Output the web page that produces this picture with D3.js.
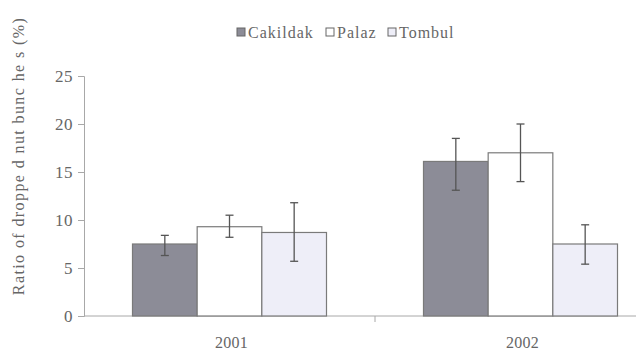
<!DOCTYPE html>
<html>
<head>
<meta charset="utf-8">
<script src="https://cdn.jsdelivr.net/npm/d3@7"></script>
<style>
  html, body { margin: 0; padding: 0; background: #fff; }
  svg text { font-family: "Liberation Serif", "Times New Roman", serif; }
</style>
</head>
<body>
<svg id="chart" width="636" height="351"></svg>
<script>
// Dropped nut bunches by cultivar and year
const years = ["2001", "2002"];
const cultivars = ["Cakildak", "Palaz", "Tombul"];
const means = {
  Cakildak: [7.5, 16.1],
  Palaz: [9.3, 17.0],
  Tombul: [8.7, 7.5]
};
const errLow = {
  Cakildak: [6.3, 13.1],
  Palaz: [8.2, 14.0],
  Tombul: [5.7, 5.4]
};
const errHigh = {
  Cakildak: [8.4, 18.5],
  Palaz: [10.5, 20.0],
  Tombul: [11.8, 9.5]
};
const yTicks = [0, 5, 10, 15, 20, 25];
const fills = { Cakildak: "#8c8c97", Palaz: "#ffffff", Tombul: "#eeeef8" };

const serif = "'Liberation Serif', 'Times New Roman', serif";
const svg = d3.select("#chart");
const plotLeft = 84, plotRight = 666, plotTop = 76, plotBottom = 316;
const textColor = "#666", axisColor = "#a8a8a8";

const x0 = d3.scaleBand().domain(years).range([plotLeft, plotRight]);
const x1 = d3.scaleBand().domain(cultivars)
  .range([0, x0.bandwidth()]).paddingOuter(0.75).paddingInner(0);
const y = d3.scaleLinear().domain([0, 25]).range([plotBottom, plotTop]);

// y axis
const yAxis = svg.append("g").attr("transform", `translate(${plotLeft},0)`)
  .call(d3.axisLeft(y).tickValues(yTicks).tickSize(6).tickPadding(5))
  .attr("font-family", serif);
yAxis.select(".domain").attr("stroke", axisColor);
yAxis.selectAll(".tick line").attr("stroke", axisColor);
yAxis.selectAll(".tick text").attr("fill", textColor)
  .style("font-family", serif)
  .style("font-size", "17px").style("letter-spacing", "0.5px");

// x axis: ticks on category boundaries
const xAxis = svg.append("g").attr("transform", `translate(0,${plotBottom})`);
xAxis.append("line").attr("x1", plotLeft).attr("x2", plotRight)
  .attr("stroke", axisColor);
xAxis.selectAll("line.sep").data(years.slice(1)).join("line")
  .attr("class", "sep")
  .attr("x1", d => x0(d)).attr("x2", d => x0(d))
  .attr("y1", 0).attr("y2", 6).attr("stroke", axisColor);
xAxis.selectAll("text").data(years).join("text")
  .attr("x", d => x0(d) + x0.bandwidth() / 2 + 2)
  .attr("y", 32)
  .attr("text-anchor", "middle")
  .attr("fill", textColor)
  .style("font-family", serif)
  .style("font-size", "16px").style("letter-spacing", "0.3px")
  .text(d => d);

// bars
const groups = svg.append("g").selectAll("g").data(years).join("g")
  .attr("transform", d => `translate(${x0(d)},0)`);

cultivars.forEach(c => {
  groups.append("rect")
    .attr("x", x1(c))
    .attr("width", x1.bandwidth())
    .attr("y", (d, i) => y(means[c][i]))
    .attr("height", (d, i) => y(0) - y(means[c][i]))
    .attr("fill", fills[c])
    .attr("stroke", "#7a7a7a")
    .attr("stroke-width", 1.2);
});

// error bars
cultivars.forEach(c => {
  const cx = x1(c) + x1.bandwidth() / 2;
  const g = groups.append("g").attr("stroke", "#555").attr("stroke-width", 1.3);
  g.append("line").attr("x1", cx).attr("x2", cx)
    .attr("y1", (d, i) => y(errHigh[c][i])).attr("y2", (d, i) => y(errLow[c][i]));
  g.append("line").attr("x1", cx - 4).attr("x2", cx + 4)
    .attr("y1", (d, i) => y(errHigh[c][i])).attr("y2", (d, i) => y(errHigh[c][i]));
  g.append("line").attr("x1", cx - 4).attr("x2", cx + 4)
    .attr("y1", (d, i) => y(errLow[c][i])).attr("y2", (d, i) => y(errLow[c][i]));
});

// legend
const legendItems = [
  { name: "Cakildak", x: 237 },
  { name: "Palaz", x: 326 },
  { name: "Tombul", x: 388 }
];
const legend = svg.append("g");
legendItems.forEach(it => {
  legend.append("rect").attr("x", it.x).attr("y", 28).attr("width", 8).attr("height", 8)
    .attr("fill", fills[it.name]).attr("stroke", "#666").attr("stroke-width", 1);
  legend.append("text").attr("x", it.x + 11).attr("y", 38)
    .attr("fill", textColor)
    .style("font-family", serif)
    .style("font-size", "16px").style("letter-spacing", "1px")
    .text(it.name);
});

// y axis title
svg.append("text")
  .attr("transform", "translate(24,156) rotate(-90)")
  .attr("text-anchor", "middle")
  .attr("fill", textColor)
  .style("font-family", serif)
  .style("font-size", "16px").style("letter-spacing", "1.4px")
  .text("Ratio of droppe d nut bunc he s (%)");
</script>
</body>
</html>
